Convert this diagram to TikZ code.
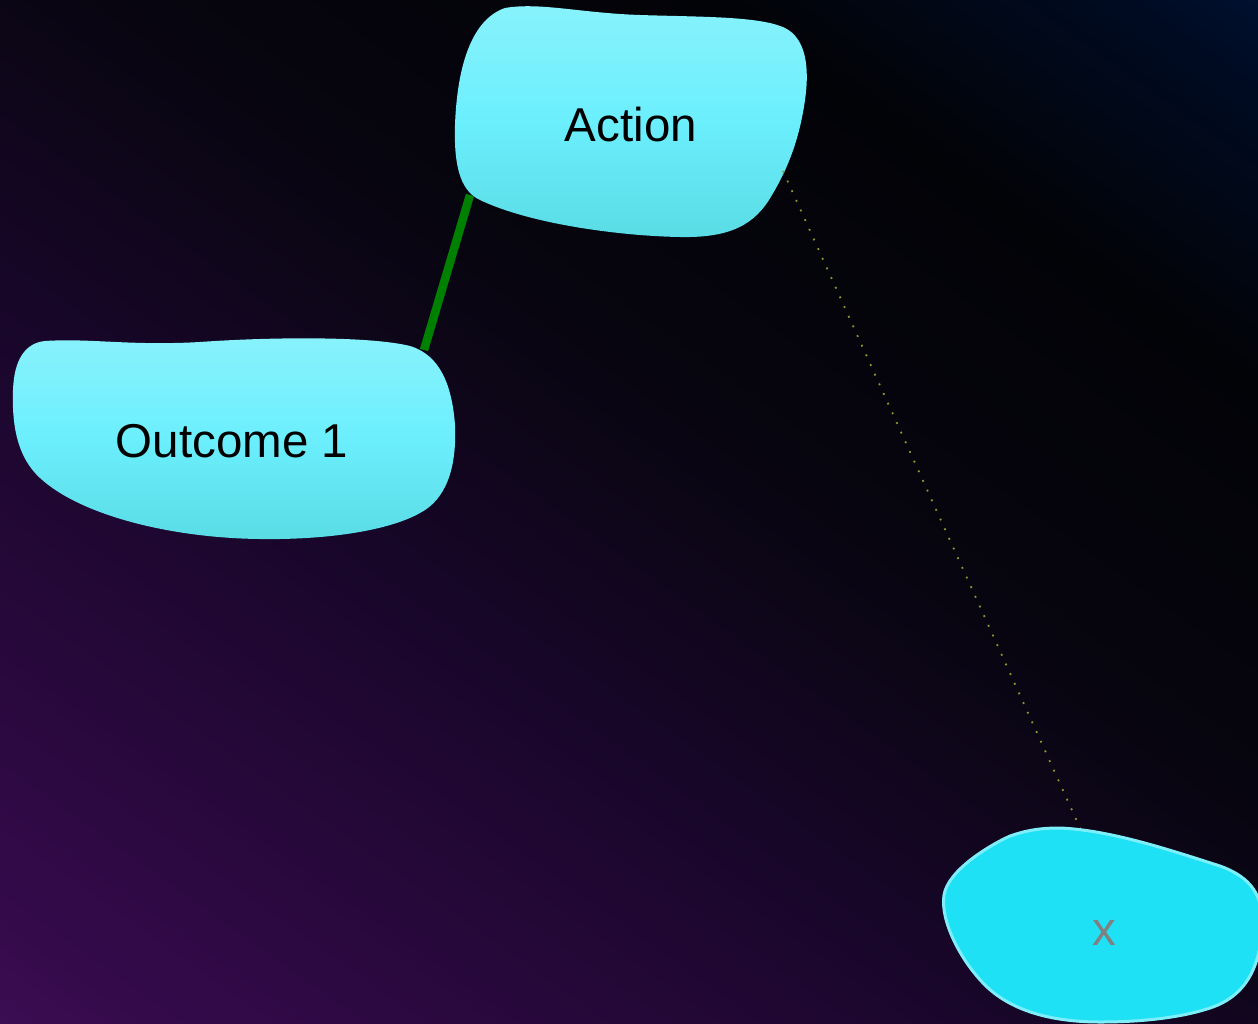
\documentclass[tikz,border=0pt]{standalone}
\usepackage{fontspec}
\setmainfont{Liberation Sans}

% background gradient stops (bottom-left purple to top-right navy)
\definecolor{bgA}{HTML}{3B0D53}
\definecolor{bgB}{HTML}{340A4A}
\definecolor{bgC}{HTML}{170628}
\definecolor{bgD}{HTML}{0E0619}
\definecolor{bgE}{HTML}{07050F}
\definecolor{bgF}{HTML}{020307}
\definecolor{bgG}{HTML}{000B22}
\definecolor{bgH}{HTML}{00102E}
% blob colours
\definecolor{blobtop}{HTML}{88F2FC}
\definecolor{blobmid}{HTML}{6CEFFD}
\definecolor{blobbot}{HTML}{5ADCE5}
\definecolor{xfill}{HTML}{1FE1F6}
\definecolor{xedge}{HTML}{7EEEFA}
\definecolor{linkgreen}{HTML}{008000}
\definecolor{linkolive}{HTML}{8A9A2A}
\definecolor{xtext}{HTML}{808080}

\pgfdeclarehorizontalshading{bgshade}{100bp}{%
  color(0bp)=(bgA); color(15.15bp)=(bgA); color(19.5bp)=(bgB);
  color(42.3bp)=(bgC); color(50bp)=(bgD); color(55.9bp)=(bgE);
  color(70.9bp)=(bgF); color(81.4bp)=(bgG); color(84.85bp)=(bgH);
  color(100bp)=(bgH)}

\tikzset{
  blob/.style={top color=blobtop, bottom color=blobbot, middle color=blobmid},
  xblob/.style={fill=xfill, draw=xedge, line width=3pt},
  lbl/.style={anchor=base, inner sep=0pt, text=black,
    font=\fontsize{47.5}{57}\selectfont},
  xlbl/.style={lbl, text=xtext},
  strong/.style={draw=linkgreen, line width=8.5pt},
  faint/.style={draw=linkolive, line width=1.8pt, dash pattern=on 1.8pt off 8.8pt},
}

\begin{document}
\begin{tikzpicture}[x=1pt, y=-1pt]
  \useasboundingbox (0,0) rectangle (1258,1023);
  \shade[shading=bgshade, shading angle=54.6] (0,0) rectangle (1258,1023);

  % "Action" blob
  \path[blob] (505,8)
    .. controls (540,2) and (580,13) .. (640,15)
    .. controls (700,17) and (760,16) .. (785,28)
    .. controls (805,38) and (810,65) .. (805,100)
    .. controls (800,135) and (790,165) .. (772,195)
    .. controls (755,225) and (730,238) .. (680,237)
    .. controls (620,236) and (530,224) .. (480,200)
    .. controls (458,190) and (454,160) .. (455,125)
    .. controls (457,70) and (470,20) .. (505,8) -- cycle;

  % "Outcome 1" blob
  \path[blob] (45,341)
    .. controls (90,338) and (130,346) .. (200,342)
    .. controls (270,337) and (370,336) .. (410,346)
    .. controls (440,355) and (452,385) .. (455,425)
    .. controls (457,470) and (445,500) .. (420,513)
    .. controls (390,530) and (330,540) .. (260,539)
    .. controls (170,538) and (80,515) .. (40,478)
    .. controls (15,455) and (12,420) .. (13,390)
    .. controls (14,360) and (25,343) .. (45,341) -- cycle;

  % "x" blob
  \path[xblob] (1060,828)
    .. controls (1110,830) and (1170,850) .. (1220,866)
    .. controls (1245,875) and (1262,890) .. (1262,920)
    .. controls (1262,960) and (1250,995) .. (1210,1008)
    .. controls (1180,1018) and (1140,1022) .. (1100,1022)
    .. controls (1050,1022) and (1010,1010) .. (985,985)
    .. controls (960,960) and (940,920) .. (944,895)
    .. controls (948,870) and (990,845) .. (1010,836)
    .. controls (1030,829) and (1045,828) .. (1060,828) -- cycle;

  % labels
  \node[lbl]  (action)  at (631,141) {Action};
  \node[lbl]  (outcome) at (232,457) {Outcome 1};
  \node[xlbl] (xnode)   at (1104,945) {x};

  % connector ends on the blob borders
  \coordinate (action-sw)  at (470,195);
  \coordinate (outcome-ne) at (424,350);
  \coordinate (action-se)  at (783,171);
  \coordinate (xnode-n)    at (1080,828);

  \draw[strong] (action-sw) -- (outcome-ne);
  \draw[faint]  (action-se) -- (xnode-n);
\end{tikzpicture}
\end{document}
